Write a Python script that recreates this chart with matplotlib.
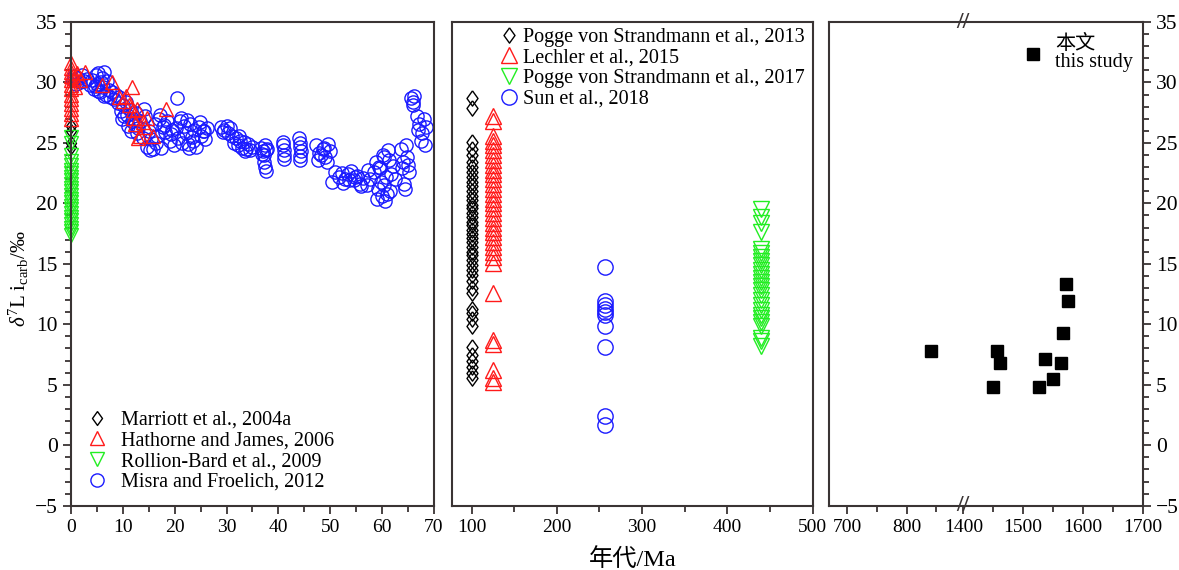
import numpy as np
import matplotlib
matplotlib.use("Agg")
import matplotlib.pyplot as plt
from matplotlib.ticker import FixedLocator, MultipleLocator
from matplotlib.lines import Line2D

plt.rcParams['font.family'] = ['Liberation Serif', 'Noto Sans CJK SC']
plt.rcParams['mathtext.fontset'] = 'custom'
plt.rcParams['mathtext.rm'] = 'Liberation Serif'
plt.rcParams['mathtext.it'] = 'Liberation Serif:italic'

# ---------------- data: left panel (0-70 Ma) ----------------
marriott_age = [0, 0, 0, 0]
marriott_d7li = [26.4, 26.0, 25.0, 24.7]

hathorne_age = [0, 0, 0, 0, 0, 0, 0, 0, 0, 0, 0, 0, 0, 0.5, 0.8, 1.2,
                2.7, 1.7, 5.9, 8.0, 11.7, 9.3, 10.1, 10.7, 11.2, 12.0, 12.7,
                12.0, 13.9, 14.3, 13.3, 15.9, 14.6, 18.3, 12.3, 13.0]
hathorne_d7li = [31.6, 31.2, 30.9, 30.5, 30.2, 29.8, 29.5, 29.0, 28.6, 28.2, 27.8, 27.4, 27.0, 30.4, 29.6, 30.8,
                 30.9, 30.2, 29.8, 30.0, 29.6, 28.8, 28.5, 28.9, 28.1, 27.7, 27.8,
                 27.1, 26.7, 26.3, 25.6, 25.6, 27.1, 27.8, 26.6, 25.4]

rollion_age = [0] * 24
rollion_d7li = [25.5, 25.0, 24.0, 23.5, 23.2, 22.8, 22.5, 22.2, 21.9, 21.6, 21.3, 21.0,
                20.7, 20.4, 20.1, 19.8, 19.5, 19.2, 18.9, 18.6, 18.3, 18.0, 17.7, 17.4]

misra_age = [0.3, 0.6, 1.0, 1.4, 1.8, 2.2, 2.6, 3.0,
             3.6, 4.0, 4.4, 4.8, 5.0, 5.3, 5.6, 5.9, 6.1, 6.4, 6.7, 7.0, 7.3, 7.6, 5.2, 5.8, 6.3, 4.6,
             8.0, 8.3, 8.7, 9.0, 9.3, 9.6, 10.0, 10.3, 10.6, 11.0, 11.3, 11.6, 12.0, 12.3, 12.6, 13.0, 9.8, 10.8, 11.8, 12.8,
             13.4, 13.8, 14.2, 14.6, 15.0, 15.4, 15.8, 16.2, 16.6, 17.0, 17.4, 17.8, 18.2, 18.6, 19.0, 19.4, 19.8, 20.4,
             14.0, 15.2, 16.4, 17.2, 18.0, 19.2,
             20.2, 20.6, 21.0, 21.4, 21.8, 22.2, 22.6, 23.0, 23.4, 23.8, 24.2, 24.6, 25.0, 25.4, 25.8, 26.2,
             21.2, 22.4, 23.6, 24.8, 25.6, 22.8,
             29.0, 29.3, 29.6, 30.0, 30.3, 30.6, 31.0,
             31.4, 31.8, 32.2, 32.6, 33.0, 33.4, 33.8, 34.2, 34.6, 35.0, 32.4, 33.6,
             36.6, 37.0, 37.2, 37.4, 37.8, 37.2, 37.4, 37.6, 36.8, 37.6,
             40.8, 40.9, 41.0, 41.1, 41.0,
             44.0, 44.1, 44.2, 44.3, 44.2, 44.1,
             47.2, 47.8, 48.5, 49.0, 49.6, 47.6, 48.8, 49.4, 50.0, 48.2,
             50.3, 51.0, 51.6, 52.2, 52.8, 53.4, 54.0, 54.6, 55.2, 55.8, 56.4, 57.0, 57.6, 52.5, 53.6, 54.8, 56.0, 57.2,
             58.4, 58.8, 59.2, 59.6, 60.0, 60.4, 60.8, 61.2, 61.6, 62.0, 62.4, 59.0, 59.8, 60.6, 61.4, 60.2, 61.0, 59.4, 61.8, 60.4,
             63.6, 64.0, 64.4, 64.8, 65.2, 64.2, 64.6, 63.8, 65.0,
             65.6, 65.9, 66.2, 66.0,
             66.8, 67.2, 67.6, 68.0, 68.4, 67.4, 68.2, 67.0]
misra_d7li = [30.2, 30.5, 29.9, 30.4, 30.0, 30.6, 30.1, 30.3,
              29.8, 30.2, 29.5, 30.6, 29.9, 30.8, 29.2, 30.4, 29.6, 30.9, 29.0, 30.1, 29.4, 28.8, 29.3, 30.0, 28.9, 29.7,
              29.2, 28.6, 29.0, 28.3, 28.8, 27.6, 28.1, 27.2, 28.4, 26.4, 27.7, 26.0, 27.0, 26.5, 27.5, 26.2, 27.0, 27.3, 26.8, 25.8,
              26.8, 25.4, 27.2, 24.7, 26.0, 25.3, 24.5, 26.6, 25.6, 27.0, 24.6, 26.3, 25.9, 26.8, 25.2, 26.1, 24.8, 28.7,
              27.8, 24.4, 25.0, 27.3, 26.5, 25.7,
              26.2, 25.4, 26.8, 25.0, 26.4, 25.8, 24.9, 26.6, 25.5, 26.1, 24.7, 26.3, 25.6, 26.0, 25.3, 26.2,
              27.1, 26.9, 25.2, 26.7, 26.0, 24.6,
              26.3, 25.9, 26.1, 26.4, 25.8, 26.2, 25.6,
              25.0, 25.4, 24.8, 25.2, 24.6, 25.1, 24.5, 24.9, 24.4, 24.7, 25.6, 24.3,
              24.6, 24.3, 24.0, 24.8, 24.5, 23.4, 23.0, 22.7, 24.1, 24.4,
              25.1, 24.8, 24.4, 24.0, 23.7,
              25.4, 25.0, 24.7, 24.3, 23.9, 23.6,
              24.8, 24.2, 24.5, 23.8, 24.9, 23.6, 24.6, 23.4, 24.3, 24.0,
              21.8, 22.6, 22.2, 22.5, 22.0, 22.4, 22.7, 21.9, 22.3, 21.6, 22.1, 21.5, 22.0, 21.7, 21.9, 22.2, 21.4, 22.8,
              22.6, 23.4, 21.2, 22.9, 20.6, 23.8, 22.2, 24.4, 21.0, 23.1, 22.0, 20.4, 21.8, 20.2, 23.6, 24.0, 20.8, 23.0, 22.4, 21.5,
              24.5, 23.4, 21.2, 23.8, 22.6, 21.6, 24.8, 22.9, 23.2,
              28.7, 28.4, 28.9, 28.1,
              27.2, 26.6, 25.8, 27.0, 26.3, 25.2, 24.8, 26.1]

# ---------------- data: middle panel (77-500 Ma) ----------------
pogge2013_age = 100
pogge2013_d7li = [28.7, 27.9, 25.1, 24.5, 24.0, 23.4, 23.0, 22.6, 22.2, 21.8, 21.4, 21.0, 20.6,
                  20.3, 19.9, 19.6, 19.2, 18.9, 18.5, 18.2, 17.8, 17.5, 17.1, 16.8, 16.4, 16.0,
                  15.7, 15.3, 14.9, 14.5, 14.1, 13.6, 13.0, 12.6, 11.3, 10.9, 10.4, 9.9,
                  8.1, 7.5, 7.0, 6.5, 6.0, 5.6]
lechler_age = 125
lechler_d7li = [27.2, 26.8, 25.6, 25.2, 24.8, 24.4, 24.0, 23.6, 23.2, 22.8, 22.4, 22.0, 21.6,
                21.2, 20.8, 20.4, 20.0, 19.6, 19.2, 18.8, 18.4, 18.0, 17.6, 17.2, 16.8, 16.4,
                16.0, 15.6, 15.1, 12.6, 8.7, 8.4, 6.2, 5.6, 5.2]
pogge2017_age = 440
pogge2017_d7li = [19.5, 18.9, 18.4, 17.6, 16.2, 15.9, 15.6, 15.2, 14.9, 14.5, 14.2, 13.8, 13.5,
                  13.2, 12.8, 12.4, 12.0, 11.6, 11.2, 10.8, 10.5, 10.2, 9.9, 8.9, 8.6, 8.2]
sun_age = 257
sun_d7li = [14.75, 11.9, 11.6, 11.3, 11.0, 10.8, 9.9, 8.1, 2.4, 1.7]

# ---------------- data: right panel (this study) ----------------
study_age = [840, 1457, 1461, 1450, 1536, 1527, 1550, 1564, 1567, 1572, 1575]
study_d7li = [7.8, 7.8, 6.8, 4.8, 7.1, 4.8, 5.5, 6.8, 9.3, 13.3, 11.9]

left_xticks = [0, 10, 20, 30, 40, 50, 60, 70]
mid_xticks = [100, 200, 300, 400, 500]
right_xticks = [700, 800, 1400, 1500, 1600, 1700]
right_xlabels = ['700', '800', '1400', '1500', '1600', '1700']
yticks = [-5, 0, 5, 10, 15, 20, 25, 30, 35]

# ---------------- styling ----------------
BLACK = '#000000'
RED = '#ff1a1a'
GREEN = '#22ee22'
BLUE = '#1a1aff'
SPINE = '#3a3434'
FS_XTICK = 14
FS_YTICK = 15.5
FS_LEG = 14.5
DIAMOND = [(0, 1), (0.72, 0), (0, -1), (-0.72, 0), (0, 1)]

fig = plt.figure(figsize=(11.79, 5.70), dpi=100)
axL = fig.add_axes([71/1179, 1-505.7/570, 363/1179, 483.7/570])
axM = fig.add_axes([452/1179, 1-505.7/570, 360.5/1179, 483.7/570])
axR = fig.add_axes([829/1179, 1-505.7/570, 313.5/1179, 483.7/570])

def style(ax):
    for s in ax.spines.values():
        s.set_color(SPINE)
        s.set_linewidth(1.5)
    ax.tick_params(which='both', direction='out', color=SPINE, width=1.3)
    ax.tick_params(axis='x', labelsize=FS_XTICK)
    ax.tick_params(axis='y', labelsize=FS_YTICK)
    ax.tick_params(which='major', length=6)
    ax.tick_params(which='minor', length=4.5)
    ax.set_ylim(-5, 35)

for ax in (axL, axM, axR):
    style(ax)

mk = dict(linestyle='none', mfc='none', mew=1.0, clip_on=False)

# Left panel
axL.plot(misra_age, misra_d7li, marker='o', ms=9.5, mec=BLUE, **mk)
axL.plot(marriott_age, marriott_d7li, marker=DIAMOND, ms=10, mec=BLACK, **mk)
axL.plot(hathorne_age, hathorne_d7li, marker='^', ms=10, mec=RED, **mk)
axL.plot(rollion_age, rollion_d7li, marker='v', ms=10, mec=GREEN, **mk)
axL.set_xlim(0, 70)
axL.xaxis.set_major_locator(FixedLocator(left_xticks))
axL.xaxis.set_minor_locator(MultipleLocator(5))
axL.yaxis.set_major_locator(FixedLocator(yticks))
axL.yaxis.set_minor_locator(MultipleLocator(1))
axL.tick_params(axis='y', which='both', right=False)
axL.tick_params(axis='x', which='both', top=False)
axL.set_ylabel(r'$\delta^{7}$L i$_{\rm carb}$/‰', fontsize=15)
axL.yaxis.set_label_coords(-0.11, 0.47)

hL = [Line2D([], [], marker=DIAMOND, ms=10, mec=BLACK, **mk),
      Line2D([], [], marker='^', ms=10, mec=RED, **mk),
      Line2D([], [], marker='v', ms=10, mec=GREEN, **mk),
      Line2D([], [], marker='o', ms=9.5, mec=BLUE, **mk)]
axL.legend(hL, ['Marriott et al., 2004a', 'Hathorne and James, 2006',
                'Rollion-Bard et al., 2009', 'Misra and Froelich, 2012'],
           loc='upper left', bbox_to_anchor=(0.0165, 0.213), frameon=False,
           fontsize=FS_LEG, handlelength=1.2, handletextpad=0.6,
           labelspacing=0.08, borderaxespad=0)

# Middle panel
axM.plot([pogge2013_age] * len(pogge2013_d7li), pogge2013_d7li, marker=DIAMOND, ms=11, mec=BLACK, **mk)
axM.plot([lechler_age] * len(lechler_d7li), lechler_d7li, marker='^', ms=11, mec=RED, **mk)
axM.plot([pogge2017_age] * len(pogge2017_d7li), pogge2017_d7li, marker='v', ms=11, mec=GREEN, **mk)
axM.plot([sun_age] * len(sun_d7li), sun_d7li, marker='o', ms=11, mec=BLUE, **mk)
axM.set_xlim(77, 500)
axM.xaxis.set_major_locator(FixedLocator(mid_xticks))
axM.xaxis.set_minor_locator(FixedLocator([150, 250, 350, 450]))
axM.tick_params(axis='y', which='both', left=False, right=False, labelleft=False)
axM.tick_params(axis='x', which='both', top=False)
axM.set_xlabel('年代/Ma', fontsize=17.5, labelpad=9)

hM = [Line2D([], [], marker=DIAMOND, ms=11, mec=BLACK, **mk),
      Line2D([], [], marker='^', ms=11, mec=RED, **mk),
      Line2D([], [], marker='v', ms=11, mec=GREEN, **mk),
      Line2D([], [], marker='o', ms=11, mec=BLUE, **mk)]
axM.legend(hM, ['Pogge von Strandmann et al., 2013', 'Lechler et al., 2015',
                'Pogge von Strandmann et al., 2017', 'Sun et al., 2018'],
           loc='upper left', bbox_to_anchor=(0.108, 1.005), frameon=False,
           fontsize=FS_LEG, handlelength=1.0, handletextpad=0.2,
           labelspacing=0.08, borderaxespad=0)

# Right panel with broken x axis
brk_lo, brk_hi = 895.0, 1400.0
def fwd(x):
    return np.interp(x, [0, brk_lo, brk_hi, 3000], [0, brk_lo, brk_lo + 0.001, brk_lo + 1600.001])
def inv(u):
    return np.interp(u, [0, brk_lo, brk_lo + 0.001, brk_lo + 1600.001], [0, brk_lo, brk_hi, 3000])
axR.set_xscale('function', functions=(fwd, inv))
axR.plot(study_age, study_d7li, marker='s', ms=8.5, linestyle='none', color='black')
axR.set_xlim(670, 1700)
axR.xaxis.set_major_locator(FixedLocator(right_xticks))
axR.xaxis.set_minor_locator(FixedLocator([750, 850, 1450, 1550, 1650]))
axR.set_xticklabels(right_xlabels)
axR.yaxis.set_major_locator(FixedLocator(yticks))
axR.yaxis.set_minor_locator(MultipleLocator(1))
axR.yaxis.tick_right()
axR.tick_params(axis='y', which='both', left=False, right=True, labelright=True, labelleft=False)
axR.tick_params(axis='x', which='both', top=False)
for yy in (1.0, 0.0):
    axR.text(brk_hi, yy, '//', transform=axR.get_xaxis_transform(), ha='center', va='center',
             fontsize=17, fontweight='bold', color=SPINE, clip_on=False)

hR = [Line2D([], [], marker='s', ms=8.5, linestyle='none', color='black')]
legR = axR.legend(hR, ['本文\nthis study'], loc='upper left', bbox_to_anchor=(0.593, 0.99),
                  frameon=False, fontsize=FS_LEG, handlelength=1.0, handletextpad=0.6,
                  borderaxespad=0)
for t in legR.get_texts():
    t.set_linespacing(0.95)

fig.savefig('out.png', dpi=100)
